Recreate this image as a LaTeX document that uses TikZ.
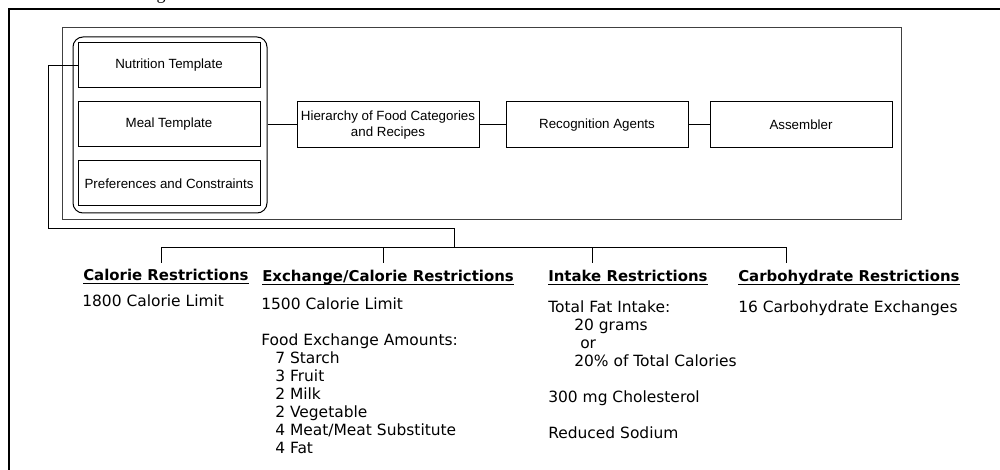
\documentclass[tikz,border=0pt]{standalone}
\usepackage{fontspec}
\setmainfont{Liberation Sans}
\newfontfamily\listfont{DejaVu Sans}
\newfontfamily\captionfont{Liberation Serif}

% underlined heading: rule a little below the baseline, independent of descenders
\newcommand{\hdline}[1]{\setbox0=\hbox{#1}\rlap{\rule[-2.3pt]{\wd0}{0.8pt}}\box0}
% stacked lines with a fixed baseline-to-baseline distance
\newcommand{\lines}[1]{\vtop{\baselineskip=13.5pt\lineskiplimit=-30pt\lineskip=0pt #1}}
\newcommand{\ind}[1]{\hspace*{#1}}

\begin{document}
\begin{tikzpicture}[x=0.75pt,y=-0.75pt,
  box/.style={draw=black,line width=0.75pt,inner sep=0pt,
    minimum width=136.5pt,minimum height=33.75pt,
    font=\fontsize{10}{12}\selectfont,align=center},
  widebox/.style={box,minimum height=34.5pt},
  group/.style={draw=black,line width=0.75pt,rounded corners=7.5pt,
    inner sep=0pt,minimum width=145.5pt,minimum height=132pt},
  panel/.style={draw=black!75,line width=0.75pt,inner sep=0pt,
    minimum width=629.25pt,minimum height=144pt},
  wire/.style={draw=black,line width=0.75pt},
  frame/.style={draw=black,line width=1.5pt},
  hd/.style={inner sep=0pt,anchor=base west,
    font=\listfont\bfseries\fontsize{11.2}{13.5}\selectfont},
  bd/.style={inner sep=0pt,anchor=base west,
    font=\listfont\fontsize{11.6}{13.5}\selectfont}]

\useasboundingbox (0,0) rectangle (1000,470);

% partial caption glyph at the top edge
\begin{scope}
  \clip (0,0) rectangle (1000,470);
  \node[inner sep=0pt,anchor=base,font=\captionfont\fontsize{13.5}{16}\selectfont] (capg) at (161,-0.5) {g};
\end{scope}

% outer frame
\coordinate (frTR) at (1000,9);
\coordinate (frTL) at (9,9);
\coordinate (frBL) at (9,470);
\draw[frame] (frTR) -- (frTL) -- (frBL);

% system panel
\node[panel] (panel) at (481.5,124) {};
\node[group] (tmpl) at (170,125) {};
\node[box] (nut)  at (169,65.5)  {Nutrition Template};
\node[box] (meal) at (169,124.5) {Meal Template};
\node[box] (pref) at (169,183.5) {Preferences and Constraints};
\node[widebox] (hier)  at (388,125) {Hierarchy of Food Categories\\and Recipes};
\node[widebox] (recog) at (597,125) {Recognition Agents};
\node[widebox] (asm)   at (801,125) {Assembler};

\draw[wire] (tmpl.east) -- (hier.west);
\draw[wire] (hier.east) -- (recog.west);
\draw[wire] (recog.east) -- (asm.west);

% restriction tree
\coordinate (loopL) at (48,229);
\coordinate (hub) at (454,248);
\coordinate (b1) at (161,248);
\coordinate (b2) at (383,248);
\coordinate (b3) at (592,248);
\coordinate (b4) at (786,248);
\coordinate (t1) at (161,263);
\coordinate (t2) at (383,263);
\coordinate (t3) at (592,263);
\coordinate (t4) at (786,263);

\draw[wire] (nut.west) -| (loopL) -| (hub);
\draw[wire] (t1) -- (b1) -- (b4) -- (t4);
\draw[wire] (b2) -- (t2);
\draw[wire] (b3) -- (t3);

% headings
\node[hd] (h1) at (83,281)  {\hdline{Calorie Restrictions}};
\node[hd] (h2) at (262,282) {\hdline{Exchange/Calorie Restrictions}};
\node[hd] (h3) at (548,282) {\hdline{Intake Restrictions}};
\node[hd] (h4) at (738,282) {\hdline{Carbohydrate Restrictions}};

% restriction details
\node[bd] (c1) at (82,307) {1800 Calorie Limit};
\node[bd] (c2) at (261,310) {\lines{%
  \hbox{1500 Calorie Limit}
  \hbox{}
  \hbox{Food Exchange Amounts:}
  \hbox{\ind{10.5pt}7 Starch}
  \hbox{\ind{10.5pt}3 Fruit}
  \hbox{\ind{10.5pt}2 Milk}
  \hbox{\ind{10.5pt}2 Vegetable}
  \hbox{\ind{10.5pt}4 Meat/Meat Substitute}
  \hbox{\ind{10.5pt}4 Fat}}};
\node[bd] (c3) at (548,313) {\lines{%
  \hbox{Total Fat Intake:}
  \hbox{\ind{19.5pt}20 grams}
  \hbox{\ind{24pt}or}
  \hbox{\ind{19.5pt}20\% of Total Calories}
  \hbox{}
  \hbox{300 mg Cholesterol}
  \hbox{}
  \hbox{Reduced Sodium}}};
\node[bd] (c4) at (738,313) {16 Carbohydrate Exchanges};

\end{tikzpicture}
\end{document}
